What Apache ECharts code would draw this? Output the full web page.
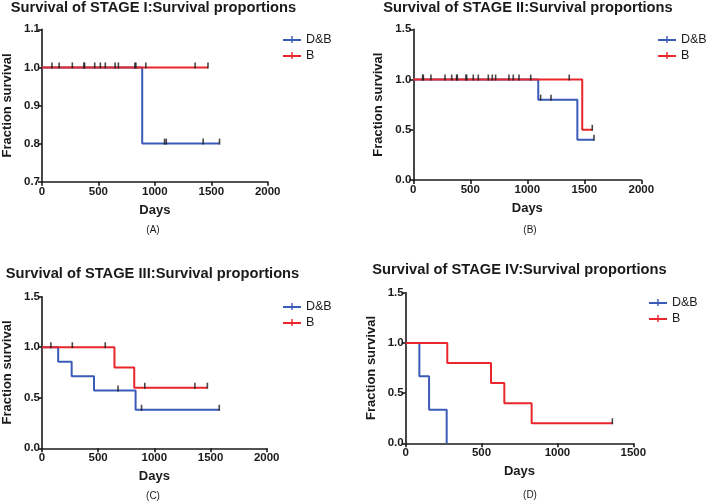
<!DOCTYPE html>
<html>
<head>
<meta charset="utf-8">
<script src="https://cdn.jsdelivr.net/npm/echarts@6/dist/echarts.min.js"></script>
<style>html,body{margin:0;padding:0;background:#fff}#c{width:709px;height:502px}</style>
</head>
<body>
<div id="c"></div>
<script>
// ---------- data ----------
var seriesNames = ['D&B', 'B'];
var panelTitles = ['Survival of STAGE I:Survival proportions', 'Survival of STAGE II:Survival proportions',
  'Survival of STAGE III:Survival proportions', 'Survival of STAGE IV:Survival proportions'];
var panelLabels = ['(A)', '(B)', '(C)', '(D)'];
var xAxisName = 'Days';
var yAxisName = 'Fraction survival';

// Panel A (Stage I)
var A_db_days = [0, 888, 1573];
var A_db_surv = [1, 0.8, 0.8];
var A_b_days = [0, 1471];
var A_b_surv = [1, 1];
var A_db_cens_days = [1086, 1101, 1428, 1573];
var A_db_cens_surv = [0.8, 0.8, 0.8, 0.8];
var A_b_cens_days = [88, 152, 269, 371, 377, 467, 517, 561, 648, 677, 823, 832, 920, 1357, 1471];
var A_b_cens_surv = [1, 1, 1, 1, 1, 1, 1, 1, 1, 1, 1, 1, 1, 1, 1];

// Panel B (Stage II)
var B_db_days = [0, 1096, 1439, 1585];
var B_db_surv = [1, 0.8, 0.4, 0.4];
var B_b_days = [0, 1482, 1570];
var B_b_surv = [1, 0.5, 0.5];
var B_db_cens_days = [1117, 1208, 1585];
var B_db_cens_surv = [0.8, 0.8, 0.4];
var B_b_cens_days = [82, 88, 155, 278, 337, 380, 386, 462, 468, 526, 570, 658, 693, 722, 839, 877, 927, 1030, 1368, 1570];
var B_b_cens_surv = [1, 1, 1, 1, 1, 1, 1, 1, 1, 1, 1, 1, 1, 1, 1, 1, 1, 1, 1, 0.5];

// Panel C (Stage III)
var C_db_days = [0, 144, 264, 463, 833, 1578];
var C_db_surv = [1, 0.857, 0.714, 0.571, 0.381, 0.381];
var C_b_days = [0, 645, 821, 1472];
var C_b_surv = [1, 0.8, 0.6, 0.6];
var C_db_cens_days = [677, 886, 1578];
var C_db_cens_surv = [0.571, 0.381, 0.381];
var C_b_cens_days = [79, 270, 563, 915, 1361, 1472];
var C_b_cens_surv = [1, 1, 1, 0.6, 0.6, 0.6];

// Panel D (Stage IV)
var D_db_days = [0, 90, 154, 270];
var D_db_surv = [1, 0.667, 0.333, 0];
var D_b_days = [0, 274, 562, 650, 830, 1362];
var D_b_surv = [1, 0.8, 0.6, 0.4, 0.2, 0.2];
var D_db_cens_days = [];
var D_db_cens_surv = [];
var D_b_cens_days = [1362];
var D_b_cens_surv = [0.2];

// axis ranges / ticks
var xMax = [2000, 2000, 2000, 1500];
var xInterval = 500;
var yMin = [0.7, 0, 0, 0];
var yMax = [1.1, 1.5, 1.5, 1.5];
var yInterval = [0.1, 0.5, 0.5, 0.5];

// ---------- chart ----------
var FONT = '"Liberation Sans", Arial, sans-serif';
var BLUE = '#3a5bb8', RED = '#e8262b', INK = '#1a1a1a';
function zip(a, b) { return a.map(function (v, i) { return [v, b[i]]; }); }

var panels = [
  [A_db_days, A_db_surv, A_b_days, A_b_surv, A_db_cens_days, A_db_cens_surv, A_b_cens_days, A_b_cens_surv],
  [B_db_days, B_db_surv, B_b_days, B_b_surv, B_db_cens_days, B_db_cens_surv, B_b_cens_days, B_b_cens_surv],
  [C_db_days, C_db_surv, C_b_days, C_b_surv, C_db_cens_days, C_db_cens_surv, C_b_cens_days, C_b_cens_surv],
  [D_db_days, D_db_surv, D_b_days, D_b_surv, D_db_cens_days, D_db_cens_surv, D_b_cens_days, D_b_cens_surv]
];

var grids = [
  {left: 39.3, top: 29.3, width: 228.4, height: 152.4},
  {left: 413.3, top: 29.3, width: 228, height: 150.7},
  {left: 39.3, top: 296.7, width: 227.4, height: 151.6},
  {left: 405.7, top: 292.7, width: 227.6, height: 150.6}
];
var legendPos = [
  {left: 283, top: 33}, {left: 658, top: 33}, {left: 283, top: 300}, {left: 649, top: 296}
];
var titlePos = [[153.5, 7.5], [528, 8], [152.5, 273.5], [519.5, 270]];
var labelPos = [[153, 230], [530, 230], [153, 496], [530, 495]];

var axisLine = {show: true, lineStyle: {color: INK, width: 1.6}};
var axisTick = {show: true, length: 4, lineStyle: {color: INK, width: 1.6}};

var xAxes = [], yAxes = [], series = [], legends = [], graphics = [];
grids.forEach(function (g, i) {
  xAxes.push({
    type: 'value', gridIndex: i, min: 0, max: xMax[i], interval: xInterval,
    name: xAxisName, nameLocation: 'middle', nameGap: 22,
    nameTextStyle: {fontFamily: FONT, fontWeight: 'bold', fontSize: 13, color: INK},
    axisLine: axisLine, axisTick: axisTick, splitLine: {show: false},
    axisLabel: {fontFamily: FONT, fontWeight: 'bold', fontSize: 11.5, color: INK, margin: 4,
      formatter: function (v) { return String(v); }}
  });
  yAxes.push({
    type: 'value', gridIndex: i, min: yMin[i], max: yMax[i], interval: yInterval[i],
    name: yAxisName, nameLocation: 'middle', nameGap: 28,
    nameTextStyle: {fontFamily: FONT, fontWeight: 'bold', fontSize: 13, color: INK},
    axisLine: axisLine, axisTick: axisTick, splitLine: {show: false},
    axisLabel: {fontFamily: FONT, fontWeight: 'bold', fontSize: 11.5, color: INK, margin: 2,
      formatter: function (v) { return v.toFixed(1); }}
  });
  var p = panels[i];
  series.push({
    name: seriesNames[0], type: 'line', step: 'end', xAxisIndex: i, yAxisIndex: i,
    data: zip(p[0], p[1]), symbol: 'none', lineStyle: {color: BLUE, width: 2},
    itemStyle: {color: BLUE}, z: 2, animation: false
  });
  series.push({
    name: seriesNames[1], type: 'line', step: 'end', xAxisIndex: i, yAxisIndex: i,
    data: zip(p[2], p[3]), symbol: 'none', lineStyle: {color: RED, width: 2},
    itemStyle: {color: RED}, z: 3, animation: false
  });
  series.push({
    name: 'censD' + i, type: 'scatter', xAxisIndex: i, yAxisIndex: i,
    data: zip(p[4], p[5]), symbol: 'rect', symbolSize: [1.6, 6], symbolOffset: [0, -2],
    itemStyle: {color: INK}, z: 4, animation: false, silent: true
  });
  series.push({
    name: 'censB' + i, type: 'scatter', xAxisIndex: i, yAxisIndex: i,
    data: zip(p[6], p[7]), symbol: 'rect', symbolSize: [1.6, 6], symbolOffset: [0, -2],
    itemStyle: {color: INK}, z: 4, animation: false, silent: true
  });
  legends.push({
    data: seriesNames.slice(), orient: 'vertical', left: legendPos[i].left, top: legendPos[i].top,
    padding: 0, itemWidth: 18, itemHeight: 7, itemGap: 3, selectedMode: false,
    icon: 'path://M0,3 L18,3 L18,5 L0,5 Z M8.3,0 L9.7,0 L9.7,7 L8.3,7 Z',
    textStyle: {fontFamily: FONT, fontSize: 12.5, color: INK}
  });
  graphics.push({
    type: 'text', x: titlePos[i][0], y: titlePos[i][1],
    style: {text: panelTitles[i], align: 'center', verticalAlign: 'middle',
      font: 'bold 14.7px ' + FONT, fill: INK}
  });
  graphics.push({
    type: 'text', x: labelPos[i][0], y: labelPos[i][1],
    style: {text: panelLabels[i], align: 'center', verticalAlign: 'middle',
      font: '10px ' + FONT, fill: INK}
  });
});

var chart = echarts.init(document.getElementById('c'), null, {renderer: 'canvas'});
chart.setOption({
  animation: false,
  backgroundColor: '#fff',
  grid: grids,
  xAxis: xAxes,
  yAxis: yAxes,
  legend: legends,
  series: series,
  graphic: graphics
});
</script>
</body>
</html>
